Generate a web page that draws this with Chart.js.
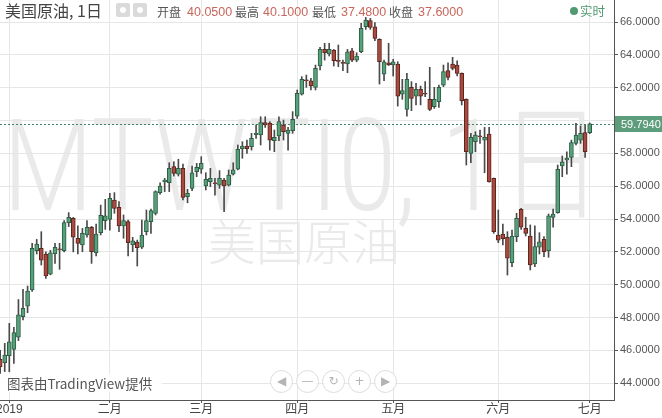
<!DOCTYPE html>
<html><head><meta charset="utf-8">
<script src="https://cdn.jsdelivr.net/npm/chart.js@4.4.1/dist/chart.umd.min.js"></script>
<style>
html,body{margin:0;padding:0;background:#fff;width:662px;height:418px;overflow:hidden;}
#wrap{position:relative;width:662px;height:418px;font-family:"Liberation Sans","Noto Sans CJK SC",sans-serif;}
canvas{position:absolute;left:0;top:0;}
.ov{position:absolute;white-space:nowrap;}
.lab{font-family:"Noto Sans CJK SC",sans-serif;font-size:12px;color:#555;top:4px;line-height:16px;}
.val{font-family:"Liberation Sans",sans-serif;font-size:12.5px;color:#c8665c;top:4px;line-height:16px;}
.ico{width:14px;height:14px;background:#dadada;border-radius:2px;top:3px;}
.ico i{position:absolute;left:4px;top:4px;width:6px;height:6px;border-radius:50%;background:#fff;}
.btn{width:21px;height:21px;border:1.5px solid #dcdcdc;border-radius:50%;background:rgba(255,255,255,0.85);top:370px;color:#b4b4b4;font-family:"DejaVu Sans",sans-serif;font-size:12px;line-height:21px;text-align:center;}
</style></head><body>
<div id="wrap">
<canvas id="c" width="662" height="418"></canvas>
<div class="ov" style="left:5px;top:0;font-family:'Noto Sans CJK SC',sans-serif;font-size:16px;line-height:21px;color:#444;">美国原油, 1日</div>
<div class="ov ico" style="left:116px;"><i></i></div>
<div class="ov ico" style="left:133px;"><i></i></div>
<div class="ov lab" style="left:157px;">开盘</div>
<div class="ov val" style="left:187px;">40.0500</div>
<div class="ov lab" style="left:235px;">最高</div>
<div class="ov val" style="left:263px;">40.1000</div>
<div class="ov lab" style="left:312px;">最低</div>
<div class="ov val" style="left:341px;">37.4800</div>
<div class="ov lab" style="left:389px;">收盘</div>
<div class="ov val" style="left:418px;">37.6000</div>
<div class="ov" style="left:570px;top:7px;width:8px;height:8px;border-radius:50%;background:#4f9a70;"></div>
<div class="ov" style="left:580px;top:2px;font-family:'Noto Sans CJK SC',sans-serif;font-size:12.5px;line-height:18px;color:#4f9a70;">实时</div>
<div class="ov" style="left:0;top:374px;width:162px;height:18px;background:rgba(255,255,255,0.92);"></div>
<div class="ov" style="left:7px;top:374px;font-family:'Noto Sans CJK SC',sans-serif;font-size:13.5px;line-height:18px;color:#555;">图表由TradingView提供</div>
<div class="ov btn" style="left:270px;">&#9664;</div>
<div class="ov btn" style="left:296px;">&#8212;</div>
<div class="ov btn" style="left:322px;">&#8635;</div>
<div class="ov btn" style="left:348px;">+</div>
<div class="ov btn" style="left:374px;">&#9654;</div>
</div>
<script>
// Daily candles, 2018-12-28 .. 2019-07-01 (index 0 = 2018-12-28)
const opens = [45.45,45.25,45.68,46.06,46.80,48.05,48.70,49.68,52.07,52.22,51.87,50.65,51.87,52.18,52.07,53.78,54.04,52.83,52.42,53.03,53.50,51.95,53.17,53.90,
53.98,55.16,54.71,53.58,53.84,52.42,52.60,52.28,53.23,53.84,54.35,55.60,56.26,56.21,57.19,56.74,57.09,55.36,55.87,56.89,
57.03,56.01,56.28,56.20,56.07,56.38,56.07,56.74,57.03,58.28,58.45,58.41,59.14,59.12,59.87,59.83,58.77,59.06,59.73,59.22,59.38,
60.27,61.61,62.44,62.42,62.02,63.32,64.33,64.05,64.29,63.64,63.50,63.44,64.25,63.68,64.19,65.71,66.08,65.71,64.94,62.83,63.52,
63.38,63.44,61.61,60.68,62.02,61.49,61.90,61.65,61.29,60.84,61.15,62.16,63.04,63.44,63.38,62.87,61.29,58.00,58.71,59.06,58.81,59.18,56.48,
53.03,53.09,52.89,51.34,52.93,54.59,53.43,52.97,51.26,52.28,52.76,52.07,54.10,54.39,57.23,57.60,57.76,58.61,58.81,59.26,
59.26];
const highs = [46.00,46.43,47.65,47.40,49.10,49.72,49.92,52.52,52.76,53.23,52.01,52.10,52.52,52.52,53.90,54.39,54.10,53.58,53.43,53.90,53.55,53.70,54.85,55.20,
55.57,55.61,55.06,54.25,53.94,52.89,52.72,53.94,54.55,54.60,55.72,56.20,56.48,57.43,57.49,57.64,57.35,55.81,57.23,57.39,
57.80,56.82,57.09,56.48,56.95,56.48,56.99,57.43,58.51,58.71,58.81,59.22,59.73,60.23,60.23,59.93,59.42,60.23,60.03,59.58,60.54,
61.86,62.67,62.77,62.57,63.38,64.46,64.70,64.70,64.33,64.60,63.68,64.33,64.39,64.13,65.92,66.28,66.22,65.96,64.98,63.68,64.70,
63.73,63.58,62.51,62.87,62.37,62.26,62.10,62.37,63.24,62.02,62.16,63.38,63.52,63.85,63.64,62.90,61.32,59.22,59.32,59.42,59.58,59.58,56.50,
54.55,53.70,53.23,53.33,54.35,54.65,54.11,53.64,53.58,53.17,52.93,54.31,54.60,57.29,57.84,58.10,58.81,59.83,59.67,59.73,
59.85];
const lows = [44.60,44.71,44.70,45.21,46.60,47.85,48.30,49.60,51.87,51.20,50.39,50.60,51.30,50.94,52.00,53.54,52.00,51.87,52.01,52.89,51.30,51.75,53.03,53.37,
53.33,54.35,53.23,52.83,51.75,52.01,51.14,52.20,53.03,53.13,54.25,55.52,55.67,55.67,56.62,56.62,55.16,54.99,55.73,56.58,
56.78,55.77,55.97,55.46,55.87,54.45,56.01,56.68,56.99,57.70,58.00,58.20,58.91,58.51,59.58,58.20,58.10,58.77,58.81,58.20,59.22,
60.13,61.55,62.02,61.86,61.86,63.08,63.68,63.93,63.32,63.28,63.04,62.91,63.58,63.58,64.13,65.55,65.55,64.86,62.22,62.42,63.35,
62.71,60.88,61.29,60.27,60.60,60.95,60.95,61.45,60.60,60.74,60.80,62.06,62.47,63.08,62.71,60.95,57.29,57.43,58.10,58.61,56.82,56.25,53.13,
52.56,52.42,50.59,51.10,52.62,53.37,52.97,50.90,51.10,51.87,51.71,51.67,53.50,54.35,56.58,56.74,57.19,58.51,58.61,57.76,
59.20];
const closes = [45.00,45.72,46.53,47.08,48.16,48.56,49.62,52.22,52.48,51.50,50.53,51.95,52.28,52.12,53.78,54.10,52.89,52.52,53.13,53.50,52.01,53.09,54.23,54.19,
55.26,54.65,53.58,53.90,52.56,52.68,52.26,53.03,53.90,54.51,55.67,56.01,56.38,57.09,56.78,57.09,55.32,55.57,56.82,57.15,
57.39,56.42,56.48,56.15,56.48,56.01,56.68,56.99,58.24,58.45,58.28,58.91,59.22,59.87,59.73,58.81,58.98,59.93,59.32,59.42,60.07,
61.65,62.51,62.42,62.10,63.18,64.33,64.13,64.33,63.64,63.60,63.48,64.19,63.68,63.93,65.61,66.12,65.67,65.00,63.58,63.58,63.38,
63.58,61.49,61.82,62.51,61.35,61.90,61.49,61.60,60.68,61.29,62.02,62.98,62.63,63.18,62.87,61.21,58.10,58.98,59.12,59.00,58.98,56.28,53.23,
52.72,52.81,51.61,52.97,54.04,53.50,53.13,51.20,52.32,52.62,52.01,54.19,54.31,57.03,57.49,57.70,58.65,59.12,59.22,58.10,
59.794];
const monthStart  = [2, 24, 44, 65, 86, 109, 129];
const monthLabels = ['2019','二月','三月','四月','五月','六月','七月'];
const yTicks = [44,46,48,50,52,54,56,58,60,62,64,66];
const lastPrice = closes[closes.length-1];

const UP = '#58a07b', UPB = '#2c5d42', DN = '#a94a40', DNB = '#5c241d', WICK = '#4a4a4a';
const isUp = closes.map((c,i)=>c>=opens[i]);

const overlay = {
  id:'overlay',
  beforeDraw(chart){
    const {ctx, chartArea:a} = chart;
    ctx.save();
    ctx.beginPath(); ctx.rect(a.left,a.top,a.right-a.left,a.bottom-a.top); ctx.clip();
    ctx.fillStyle = '#eaeaea';
    ctx.font = '300 128px Roboto, "Liberation Sans", "Noto Sans CJK SC", sans-serif';
    ctx.textBaseline = 'alphabetic';
    const t = 'MTWTI0, 1日';
    const w = ctx.measureText(t).width;
    ctx.save();
    ctx.translate(3, 210);
    ctx.scale(600/w, 1);
    ctx.fillText(t, 0, 0);
    ctx.restore();
    ctx.font = '300 48px "Noto Sans CJK SC", sans-serif';
    ctx.textAlign = 'center'; ctx.textBaseline = 'middle';
    ctx.fillText('美国原油', 304, 242);
    ctx.restore();
  },
  beforeDatasetsDraw(chart){
    const {ctx, chartArea:a, scales:{y}} = chart;
    const py = Math.round(y.getPixelForValue(lastPrice)) + 0.5;
    ctx.save();
    ctx.strokeStyle = '#3f8461'; ctx.lineWidth = 1; ctx.setLineDash([2,2]);
    ctx.beginPath(); ctx.moveTo(a.left, py); ctx.lineTo(a.right, py); ctx.stroke();
    ctx.restore();
  },
  afterDraw(chart){
    const {ctx, chartArea:a, scales:{x,y}} = chart;
    const py = y.getPixelForValue(lastPrice);
    ctx.save();
    ctx.fillStyle = '#5e9d7b';
    ctx.fillRect(a.right+1, Math.round(py)-8, 48, 16);
    ctx.fillStyle = '#fff';
    ctx.font = '11px "Liberation Sans", sans-serif';
    ctx.textBaseline = 'middle'; ctx.textAlign = 'left';
    ctx.fillText(lastPrice.toFixed(4), a.right+7, Math.round(py)+0.5);
    ctx.fillStyle = '#444';
    ctx.font = '12px "Liberation Sans", "Noto Sans CJK SC", sans-serif';
    ctx.textAlign = 'center';
    monthStart.forEach((m,k)=>{
      ctx.fillText(monthLabels[k], x.getPixelForValue(m), a.bottom + 10);
    });
    ctx.restore();
  }
};

new Chart(document.getElementById('c'), {
  type:'bar',
  data:{datasets:[
    {data: highs.map((h,i)=>({x:i, y:[lows[i], h]})), backgroundColor:WICK, barThickness:1, grouped:false, order:2},
    {data: opens.map((o,i)=>({x:i, y:[o, closes[i]]})),
     backgroundColor: isUp.map(u=>u?UP:DN), borderColor: isUp.map(u=>u?UPB:DNB),
     borderWidth:1, borderSkipped:false, barThickness:4, minBarLength:1, grouped:false, order:1}
  ]},
  options:{
    responsive:false, animation:false, devicePixelRatio:1,
    layout:{padding:0},
    plugins:{legend:{display:false}, tooltip:{enabled:false}},
    scales:{
      x:{type:'linear', min:-0.035, max:134.32, offset:false,
         grid:{offset:false, color:'#e6e6e6', tickColor:'#555', tickLength:3},
         border:{color:'#555'},
         ticks:{display:false},
         afterBuildTicks(s){ s.ticks = monthStart.map(v=>({value:v})); },
         afterFit(s){ s.height = 18; s.paddingLeft = 0; s.paddingRight = 0; }},
      y:{position:'right', min:42.98, max:67.34,
         grid:{color:'#e6e6e6', tickColor:'#555', tickLength:4},
         border:{color:'#555'},
         ticks:{color:'#555', padding:2, font:{family:'"Liberation Sans", sans-serif', size:11},
                callback:v=> (v===60 ? '' : Number(v).toFixed(4))},
         afterBuildTicks(s){ s.ticks = yTicks.map(v=>({value:v})); },
         afterFit(s){ s.width = 48; s.paddingTop = 0; s.paddingBottom = 0; }}
    }
  },
  plugins:[overlay]
});
</script>
</body></html>
